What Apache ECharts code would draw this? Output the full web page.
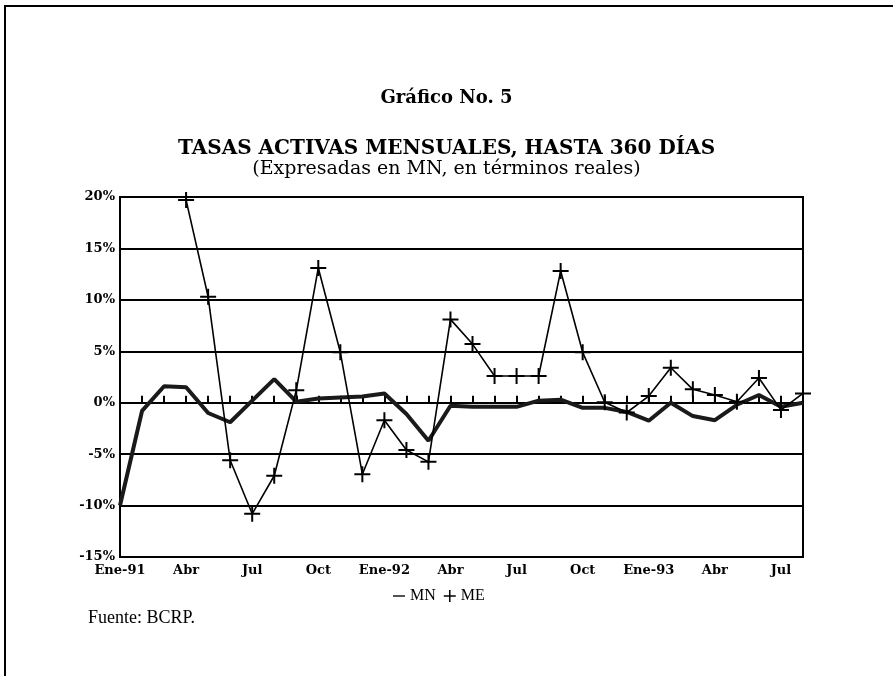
<!DOCTYPE html>
<html>
<head>
<meta charset="utf-8">
<script src="https://cdn.jsdelivr.net/npm/echarts@6/dist/echarts.min.js"></script>
<style>
html,body{margin:0;padding:0;background:#fff;}
#chart{width:893px;height:676px;}
</style>
</head>
<body>
<div id="chart"></div>
<script>
var categories = ['Ene-91','Feb','Mar','Abr','May','Jun','Jul','Ago','Set','Oct','Nov','Dic',
                  'Ene-92','Feb','Mar','Abr','May','Jun','Jul','Ago','Set','Oct','Nov','Dic',
                  'Ene-93','Feb','Mar','Abr','May','Jun','Jul','Ago'];
var mnValues = [-10.0, -0.8, 1.6, 1.5, -1.0, -1.9, 0.2, 2.3, 0.1, 0.4, 0.5, 0.6,
                0.9, -1.1, -3.7, -0.3, -0.4, -0.4, -0.4, 0.2, 0.3, -0.5, -0.5, -0.9,
                -1.75, 0.0, -1.3, -1.7, -0.2, 0.75, -0.4, 0.0];
var meValues = [null, null, null, 19.7, 10.3, -5.6, -10.8, -7.1, 1.2, 13.1, 4.9, -6.95,
                -1.7, -4.6, -5.75, 8.1, 5.7, 2.6, 2.6, 2.6, 12.8, 4.9, 0.05, -0.95,
                0.65, 3.4, 1.3, 0.75, 0.1, 2.4, -0.7, 0.9];
var yTicks = {min: -15, max: 20, step: 5};

var serif = "'Liberation Serif', 'DejaVu Serif', serif";
var wide = "'DejaVu Serif', 'Liberation Serif', serif";
var plusPath = 'path://M0,7H16V9H0Z M7,0H9V16H7Z';
var dashPath = 'path://M0,7H16V9H0Z';

var chart = echarts.init(document.getElementById('chart'));
chart.setOption({
  backgroundColor: '#fff',
  animation: false,
  title: [
    {text: 'Gráfico No. 5', left: 'center', top: 84,
     textStyle: {fontFamily: wide, fontSize: 18, fontWeight: 'bold', color: '#000'}},
    {text: 'TASAS ACTIVAS MENSUALES, HASTA 360 DÍAS', left: 'center', top: 134,
     textStyle: {fontFamily: wide, fontSize: 20, fontWeight: 'bold', color: '#000'}},
    {text: '(Expresadas en MN, en términos reales)', left: 'center', top: 155,
     textStyle: {fontFamily: wide, fontSize: 19, fontWeight: 'normal', color: '#000'}},
    {text: 'Fuente: BCRP.', left: 83, top: 604,
     textStyle: {fontFamily: serif, fontSize: 18, fontWeight: 'normal', color: '#000'}}
  ],
  legend: {
    left: 388, top: 583,
    itemWidth: 12, itemHeight: 12, itemGap: 8,
    textStyle: {fontFamily: serif, fontSize: 16, color: '#000'},
    data: [{name: 'MN', icon: dashPath}, {name: 'ME', icon: plusPath}]
  },
  grid: {left: 120, right: 90, top: 197, bottom: 119, show: true,
         borderColor: '#000', borderWidth: 2, backgroundColor: 'transparent'},
  xAxis: {
    type: 'category', data: categories, boundaryGap: false,
    axisLine: {lineStyle: {color: '#000', width: 2}},
    axisTick: {show: true, inside: true, length: 7, interval: 0, lineStyle: {color: '#000', width: 2}},
    axisLabel: {interval: 2, margin: 7, color: '#000', fontFamily: wide, fontSize: 13, fontWeight: 'bold'},
    splitLine: {show: false}
  },
  yAxis: {
    type: 'value', min: yTicks.min, max: yTicks.max, interval: yTicks.step,
    axisLine: {show: true, lineStyle: {color: '#000', width: 2}},
    axisTick: {show: false},
    axisLabel: {formatter: '{value}%', margin: 5, color: '#000', fontFamily: wide, fontSize: 13, fontWeight: 'bold'},
    splitLine: {show: true, lineStyle: {color: '#000', width: 2}}
  },
  series: [
    {name: 'MN', type: 'line', data: mnValues, symbol: 'none',
     lineStyle: {color: '#1a1a1a', width: 4}, itemStyle: {color: '#1a1a1a'}, z: 3},
    {name: 'ME', type: 'line', data: meValues, symbol: plusPath, symbolSize: 16,
     showAllSymbol: true,
     lineStyle: {color: '#000', width: 1.6}, itemStyle: {color: '#000'}, z: 4}
  ],
  graphic: [
    {type: 'polyline', shape: {points: [[5, 676], [5, 6], [893, 6]]},
     style: {stroke: '#000', lineWidth: 2, fill: null}, silent: true}
  ]
});
</script>
</body>
</html>
